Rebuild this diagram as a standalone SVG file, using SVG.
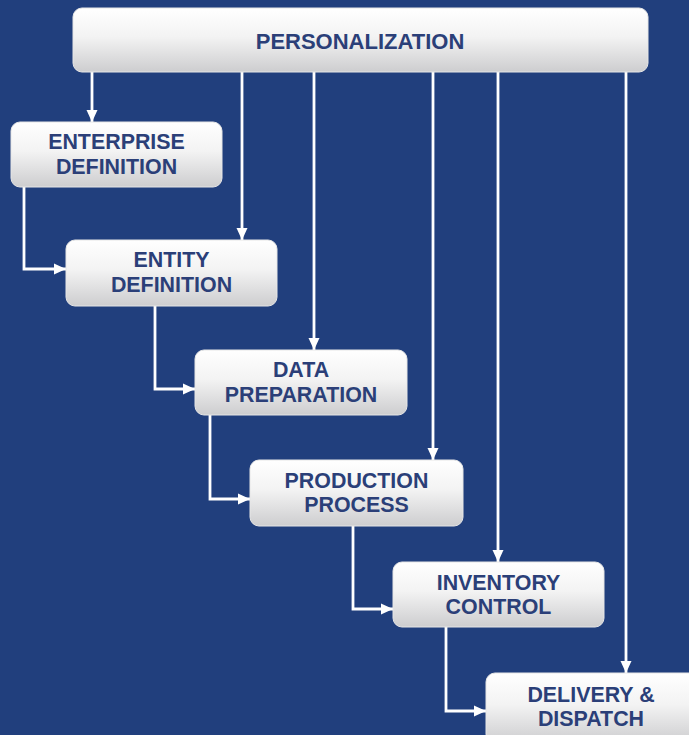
<svg xmlns="http://www.w3.org/2000/svg" width="689" height="735" viewBox="0 0 689 735">
<defs>
<linearGradient id="g" x1="0" y1="0" x2="0" y2="1">
<stop offset="0" stop-color="#ffffff"/>
<stop offset="0.45" stop-color="#f3f3f3"/>
<stop offset="1" stop-color="#cdcdcf"/>
</linearGradient>
<marker id="ah" markerUnits="userSpaceOnUse" markerWidth="13" markerHeight="13" viewBox="0 0 13 13" refX="12" refY="6.5" orient="auto">
<path d="M0,1 L12,6.5 L0,12 Z" fill="#ffffff"/>
</marker>
<style>
.box{fill:url(#g);stroke:#e6e6e6;stroke-width:1}
.t{font-family:"Liberation Sans",Arial,sans-serif;font-weight:bold;font-size:21.4px;fill:#2b3f78;text-anchor:middle}
.c{fill:none;stroke:#ffffff;stroke-width:2.8;marker-end:url(#ah)}
</style>
</defs>
<rect width="689" height="735" fill="#213f7d"/>
<g id="connectors">
<path class="c" d="M92,72 V122"/>
<path class="c" d="M242,72 V240"/>
<path class="c" d="M314,72 V350"/>
<path class="c" d="M433,72 V460"/>
<path class="c" d="M498,72 V562"/>
<path class="c" d="M626,72 V673"/>
<path class="c" d="M24,187 V269 H66"/>
<path class="c" d="M155,306 V389 H195"/>
<path class="c" d="M210,415 V499 H250"/>
<path class="c" d="M353,526 V609 H393"/>
<path class="c" d="M446,627 V711 H486"/>
</g>
<g id="personalization">
<rect class="box" x="73" y="8" width="575" height="64" rx="9"/>
<text class="t" x="360" y="49" style="font-size:22px">PERSONALIZATION</text>
</g>
<g id="enterprise">
<rect class="box" x="11" y="122" width="211" height="65" rx="9"/>
<text class="t" x="116.5" y="149">ENTERPRISE</text>
<text class="t" x="116.5" y="174">DEFINITION</text>
</g>
<g id="entity">
<rect class="box" x="66" y="240" width="211" height="66" rx="9"/>
<text class="t" x="171.5" y="267">ENTITY</text>
<text class="t" x="171.5" y="292">DEFINITION</text>
</g>
<g id="data">
<rect class="box" x="195" y="350" width="212" height="65" rx="9"/>
<text class="t" x="301" y="377">DATA</text>
<text class="t" x="301" y="402">PREPARATION</text>
</g>
<g id="production">
<rect class="box" x="250" y="460" width="213" height="66" rx="9"/>
<text class="t" x="356.5" y="488">PRODUCTION</text>
<text class="t" x="356.5" y="512">PROCESS</text>
</g>
<g id="inventory">
<rect class="box" x="393" y="562" width="211" height="65" rx="9"/>
<text class="t" x="498.5" y="590">INVENTORY</text>
<text class="t" x="498.5" y="614">CONTROL</text>
</g>
<g id="delivery">
<rect class="box" x="486" y="673" width="212" height="70" rx="9"/>
<text class="t" x="591" y="702">DELIVERY &amp;</text>
<text class="t" x="591" y="726">DISPATCH</text>
</g>
</svg>
